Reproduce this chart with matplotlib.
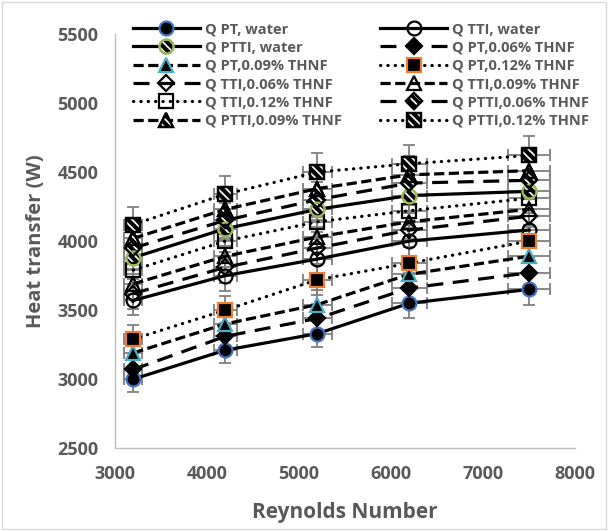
import numpy as np
import matplotlib.pyplot as plt
from matplotlib.patches import Rectangle

plt.rcParams['font.family'] = ['Open Sans', 'DejaVu Sans']
plt.rcParams['hatch.linewidth'] = 3.0

# Reynolds number and heat transfer (W) for each configuration
reynolds = [3200, 4200, 5200, 6200, 7500]

q_pt_water = [3000, 3210, 3330, 3550, 3650]
q_pt_006 = [3070, 3310, 3440, 3660, 3770]
q_pt_009 = [3190, 3400, 3540, 3760, 3890]
q_pt_012 = [3290, 3500, 3720, 3840, 4000]

q_tti_water = [3570, 3750, 3870, 4000, 4080]
q_tti_006 = [3620, 3810, 3950, 4080, 4180]
q_tti_009 = [3690, 3890, 4030, 4140, 4230]
q_tti_012 = [3790, 4000, 4140, 4220, 4310]

q_ptti_water = [3880, 4090, 4230, 4330, 4360]
q_ptti_006 = [3950, 4150, 4300, 4420, 4440]
q_ptti_009 = [4020, 4230, 4380, 4480, 4510]
q_ptti_012 = [4120, 4340, 4500, 4560, 4620]

erro_rel = 0.03  # 3% em x e em y

cinza = '#595959'
azul = '#4472C4'
laranja = '#ED7D31'
ciano = '#4BACC6'
verde = '#9BBB59'

solida = '-'
traco_longo = (0, (5.0, 3.0))
traco_curto = (0, (3.2, 1.4))
pontilhada = (0, (0.1, 2.2))

# (rótulo, dados, estilo de linha, marcador, face, borda, hachurado)
series = [
    ("Q PT, water", q_pt_water, solida, 'o', 'black', azul, False),
    ("Q TTI, water", q_tti_water, solida, 'o', 'none', 'black', False),
    ("Q PTTI, water", q_ptti_water, solida, 'o', 'white', verde, True),
    ("Q PT,0.06% THNF", q_pt_006, traco_longo, 'D', 'black', 'black', False),
    ("Q PT,0.09% THNF", q_pt_009, traco_curto, '^', 'black', ciano, False),
    ("Q PT,0.12% THNF", q_pt_012, pontilhada, 's', 'black', laranja, False),
    ("Q TTI,0.06% THNF", q_tti_006, traco_longo, 'D', 'none', 'black', False),
    ("Q TTI,0.09% THNF", q_tti_009, traco_curto, '^', 'none', 'black', False),
    ("Q TTI,0.12% THNF", q_tti_012, pontilhada, 's', 'none', 'black', False),
    ("Q PTTI,0.06% THNF", q_ptti_006, traco_longo, 'D', 'white', 'black', True),
    ("Q PTTI,0.09% THNF", q_ptti_009, traco_curto, '^', 'white', 'black', True),
    ("Q PTTI,0.12% THNF", q_ptti_012, pontilhada, 's', 'white', 'black', True),
]

tamanhos = {'o': 10, 'D': 8, '^': 10, 's': 10}

fig = plt.figure(figsize=(6.08, 5.31), dpi=100)
ax = fig.add_axes([0.189, 0.156, 0.757, 0.780])
fig.patches.append(Rectangle((0.004, 0.004), 0.992, 0.992, transform=fig.transFigure,
                             fill=False, edgecolor='#D9D9D9', linewidth=1))

x = np.array(reynolds)
handles = []
labels = []
for rotulo, dados, ls, mk, face, borda, hach in series:
    y = np.array(dados)
    ax.errorbar(x, y, xerr=erro_rel * x, yerr=erro_rel * y, fmt='none',
                ecolor='#7F7F7F', elinewidth=1.3, capsize=4, capthick=1.3, zorder=2)
    ms = tamanhos[mk]
    linha, = ax.plot(x, y, linestyle=ls, color='black', linewidth=2.3,
                     dash_capstyle='round' if ls == pontilhada else 'butt',
                     marker=mk, markersize=ms, markerfacecolor=face,
                     markeredgecolor=borda, markeredgewidth=1.6, zorder=3)
    if hach:
        sc = ax.scatter(x, y, s=ms ** 2, marker=mk, facecolor='none', edgecolor='black',
                        linewidths=0, hatch='\\\\\\\\', zorder=4)
        contorno, = ax.plot(x, y, linestyle='none', marker=mk, markersize=ms,
                            markerfacecolor='none', markeredgecolor=borda,
                            markeredgewidth=1.6, zorder=5)
        handles.append((linha, sc, contorno))
    else:
        handles.append(linha)
    labels.append(rotulo)

ax.set_xlim(3000, 8000)
ax.set_ylim(2500, 5500)
ax.set_xticks(np.arange(3000, 8001, 1000))
ax.set_yticks(np.arange(2500, 5501, 500))
ax.tick_params(length=0, labelsize=13, labelcolor=cinza, pad=12)
for t in ax.get_xticklabels() + ax.get_yticklabels():
    t.set_fontweight('bold')
for lado in ['top', 'right']:
    ax.spines[lado].set_visible(False)
for lado in ['left', 'bottom']:
    ax.spines[lado].set_color('#BFBFBF')
    ax.spines[lado].set_linewidth(1)

ax.set_xlabel("Reynolds Number", fontsize=15, fontweight='bold', color=cinza, labelpad=14)
ax.set_ylabel("Heat transfer (W)", fontsize=14.5, fontweight='bold', color=cinza, labelpad=8)

# legenda em duas colunas, preenchida por linhas
ordem = list(range(0, 12, 2)) + list(range(1, 12, 2))
leg = ax.legend([handles[i] for i in ordem], [labels[i] for i in ordem],
                ncol=2, loc='upper left', bbox_to_anchor=(0.02, 1.05),
                frameon=False, fontsize=10.5, handlelength=4.6, handletextpad=0.35,
                columnspacing=2.6, labelspacing=0.3, scatterpoints=1, numpoints=1,
                borderaxespad=0.2)
for t in leg.get_texts():
    t.set_color(cinza)
    t.set_fontweight('bold')

fig.savefig("out.png", dpi=100)
